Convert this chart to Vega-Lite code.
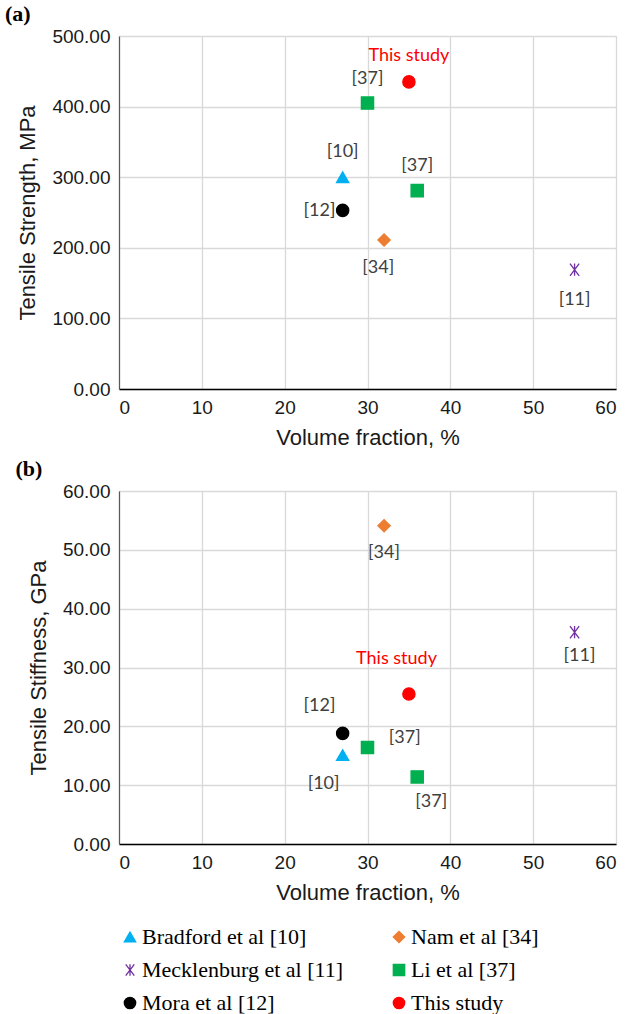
{
  "$schema": "https://vega.github.io/schema/vega-lite/v6.json",
  "background": "white",
  "padding": {"left": 4, "top": 2, "right": 8, "bottom": 0},
  "datasets": {
    "points": [
      {"panel": "a", "series": "Bradford et al [10]", "x": 27, "y": 300},
      {"panel": "a", "series": "Nam et al [34]", "x": 32, "y": 211},
      {"panel": "a", "series": "Mecklenburg et al [11]", "x": 55, "y": 169},
      {"panel": "a", "series": "Li et al [37]", "x": 30, "y": 405},
      {"panel": "a", "series": "Li et al [37]", "x": 36, "y": 281},
      {"panel": "a", "series": "Mora et al [12]", "x": 27, "y": 253},
      {"panel": "a", "series": "This study", "x": 35, "y": 435},
      {"panel": "b", "series": "Bradford et al [10]", "x": 27, "y": 15.1},
      {"panel": "b", "series": "Nam et al [34]", "x": 32, "y": 54.1},
      {"panel": "b", "series": "Mecklenburg et al [11]", "x": 55, "y": 36},
      {"panel": "b", "series": "Li et al [37]", "x": 30, "y": 16.4},
      {"panel": "b", "series": "Li et al [37]", "x": 36, "y": 11.4},
      {"panel": "b", "series": "Mora et al [12]", "x": 27, "y": 18.8},
      {"panel": "b", "series": "This study", "x": 35, "y": 25.5}
    ],
    "labels": [
      {"panel": "a", "text": "This study", "x": 35, "y": 472},
      {"panel": "a", "text": "[37]", "x": 30, "y": 439},
      {"panel": "a", "text": "[10]", "x": 27, "y": 335},
      {"panel": "a", "text": "[37]", "x": 36, "y": 316},
      {"panel": "a", "text": "[12]", "x": 24.2, "y": 252},
      {"panel": "a", "text": "[34]", "x": 31.3, "y": 172},
      {"panel": "a", "text": "[11]", "x": 55, "y": 126},
      {"panel": "b", "text": "[34]", "x": 32, "y": 49.5},
      {"panel": "b", "text": "[11]", "x": 55.6, "y": 32},
      {"panel": "b", "text": "This study", "x": 33.5, "y": 31.4},
      {"panel": "b", "text": "[12]", "x": 24.2, "y": 23.4},
      {"panel": "b", "text": "[37]", "x": 34.5, "y": 18},
      {"panel": "b", "text": "[10]", "x": 24.7, "y": 10.2},
      {"panel": "b", "text": "[37]", "x": 37.7, "y": 7.1}
    ],
    "errors": [
      {"panel": "a", "x": 35, "lo": 427, "hi": 443},
      {"panel": "b", "x": 35, "lo": 24.7, "hi": 26.3}
    ]
  },
  "vconcat": [
    {
      "title": {"text": "(a)", "anchor": "start", "frame": "bounds", "font": "Liberation Serif", "fontWeight": "bold", "fontSize": 22, "color": "#000", "offset": 1, "dx": -12},
      "width": 497,
      "height": 353,
      "layer": [
        {
          "data": {"name": "errors"},
          "transform": [{"filter": "datum.panel === 'a'"}],
          "mark": {"type": "rule", "color": "#7f7f7f", "strokeWidth": 1.5},
          "encoding": {
            "x": {"field": "x", "type": "quantitative"},
            "y": {"field": "lo", "type": "quantitative"},
            "y2": {"field": "hi"}
          }
        },
        {
          "data": {"name": "points"},
          "transform": [{"filter": "datum.panel === 'a'"}],
          "mark": {"type": "point", "filled": true, "opacity": 1, "strokeWidth": 1.3, "size": 150},
          "encoding": {
            "x": {"field": "x", "type": "quantitative", "scale": {"domain": [0, 60], "nice": false},
                  "axis": {"values": [0, 10, 20, 30, 40, 50, 60], "title": "Volume fraction, %"}},
            "y": {"field": "y", "type": "quantitative", "scale": {"domain": [0, 500], "nice": false},
                  "axis": {"values": [0, 100, 200, 300, 400, 500], "format": ".2f", "title": "Tensile Strength, MPa"}},
            "color": {"field": "series", "type": "nominal", "title": null,
                      "scale": {"domain": ["Bradford et al [10]", "Nam et al [34]", "Mecklenburg et al [11]", "Li et al [37]", "Mora et al [12]", "This study"],
                                "range": ["#00B0F0", "#ED7D31", "#7030A0", "#00B050", "#000000", "#FF0000"]}},
            "stroke": {"field": "series", "type": "nominal", "title": null,
                      "scale": {"domain": ["Bradford et al [10]", "Nam et al [34]", "Mecklenburg et al [11]", "Li et al [37]", "Mora et al [12]", "This study"],
                                "range": ["#00B0F0", "#ED7D31", "#7030A0", "#00B050", "#000000", "#FF0000"]}},
            "shape": {"field": "series", "type": "nominal", "title": null,
                      "scale": {"domain": ["Bradford et al [10]", "Nam et al [34]", "Mecklenburg et al [11]", "Li et al [37]", "Mora et al [12]", "This study"],
                                "range": ["triangle-up", "diamond", "M-0.75,-1L0.75,1M-0.75,1L0.75,-1M0,-1L0,1", "square", "circle", "circle"]}}
          }
        },
        {
          "data": {"name": "labels"},
          "transform": [{"filter": "datum.panel === 'a'"}],
          "mark": {"type": "text", "font": "Lato", "fontSize": 18, "baseline": "middle", "align": "center"},
          "encoding": {
            "x": {"field": "x", "type": "quantitative"},
            "y": {"field": "y", "type": "quantitative"},
            "text": {"field": "text"},
            "color": {"condition": {"test": "datum.text === 'This study'", "value": "#FF0000"}, "value": "#404040"}
          }
        }
      ]
    },
    {
      "title": {"text": "(b)", "anchor": "start", "frame": "bounds", "font": "Liberation Serif", "fontWeight": "bold", "fontSize": 22, "color": "#000", "offset": 1, "dx": -12},
      "width": 497,
      "height": 353,
      "layer": [
        {
          "data": {"name": "errors"},
          "transform": [{"filter": "datum.panel === 'b'"}],
          "mark": {"type": "rule", "color": "#7f7f7f", "strokeWidth": 1.5},
          "encoding": {
            "x": {"field": "x", "type": "quantitative"},
            "y": {"field": "lo", "type": "quantitative"},
            "y2": {"field": "hi"}
          }
        },
        {
          "data": {"name": "points"},
          "transform": [{"filter": "datum.panel === 'b'"}],
          "mark": {"type": "point", "filled": true, "opacity": 1, "strokeWidth": 1.3, "size": 150},
          "encoding": {
            "x": {"field": "x", "type": "quantitative", "scale": {"domain": [0, 60], "nice": false},
                  "axis": {"values": [0, 10, 20, 30, 40, 50, 60], "title": "Volume fraction, %"}},
            "y": {"field": "y", "type": "quantitative", "scale": {"domain": [0, 60], "nice": false},
                  "axis": {"values": [0, 10, 20, 30, 40, 50, 60], "format": ".2f", "title": "Tensile Stiffness, GPa"}},
            "color": {"field": "series", "type": "nominal", "title": null},
            "stroke": {"field": "series", "type": "nominal", "title": null},
            "shape": {"field": "series", "type": "nominal", "title": null}
          }
        },
        {
          "data": {"name": "labels"},
          "transform": [{"filter": "datum.panel === 'b'"}],
          "mark": {"type": "text", "font": "Lato", "fontSize": 18, "baseline": "middle", "align": "center"},
          "encoding": {
            "x": {"field": "x", "type": "quantitative"},
            "y": {"field": "y", "type": "quantitative"},
            "text": {"field": "text"},
            "color": {"condition": {"test": "datum.text === 'This study'", "value": "#FF0000"}, "value": "#404040"}
          }
        }
      ]
    }
  ],
  "spacing": 8,
  "resolve": {"scale": {"color": "shared", "shape": "shared", "stroke": "shared"}},
  "config": {
    "view": {"stroke": "#d9d9d9"},
    "axis": {
      "labelFont": "Liberation Sans", "labelFontSize": 19, "labelColor": "#1a1a1a",
      "titleFont": "Liberation Sans", "titleFontSize": 22, "titleFontWeight": "normal", "titleColor": "#1a1a1a",
      "gridColor": "#d9d9d9", "gridWidth": 1.3, "ticks": false, "labelPadding": 9
    },
    "axisX": {"domainColor": "#000000", "domainWidth": 1.5, "titlePadding": 10},
    "axisY": {"domainColor": "#595959", "domainWidth": 1.2, "titlePadding": 12},
    "legend": {
      "orient": "bottom", "columns": 2, "labelFont": "Liberation Serif", "labelFontSize": 22, "labelColor": "#000", "labelLimit": 400,
      "symbolSize": 130, "symbolStrokeWidth": 1.3, "rowPadding": 11, "columnPadding": 45, "offset": 22, "labelOffset": 1
    }
  }
}
